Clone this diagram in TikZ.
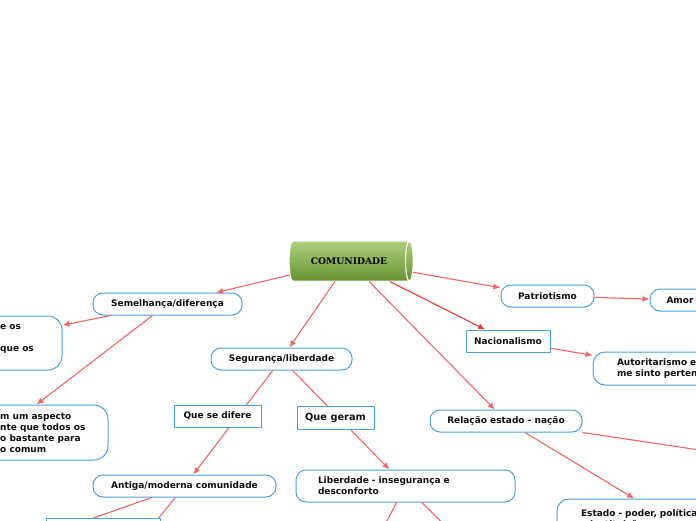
\documentclass[tikz,border=0pt]{standalone}
\usepackage{fontspec}
\setmainfont{DejaVu Sans}
\newfontfamily\titlefont{DejaVu Serif}
\usetikzlibrary{shapes.geometric, arrows.meta}
\definecolor{mapblue}{RGB}{74,162,224}
\definecolor{mapred}{RGB}{246,100,100}
\definecolor{mapdark}{RGB}{222,62,62}
\definecolor{maptext}{RGB}{15,15,15}
\definecolor{greenhi}{RGB}{176,208,126}
\definecolor{greenlo}{RGB}{100,146,48}
\tikzset{
  bubble/.style={rectangle, draw=mapblue, fill=white, rounded corners=10pt,
    line width=1pt, text=maptext, inner sep=0pt,
    font=\fontsize{9}{11}\selectfont\bfseries},
  tagbox/.style={rectangle, draw=mapblue, fill=white, line width=1pt,
    text=maptext, inner sep=0pt, font=\fontsize{9}{11}\selectfont\bfseries},
  note/.style={inner sep=0pt, align=left, text=maptext,
    font=\fontsize{9}{11}\selectfont\bfseries},
  hub/.style={cylinder, shape border rotate=0, aspect=1.1,
    minimum height=124pt, minimum width=40pt, inner sep=0pt,
    top color=greenhi, bottom color=greenlo, draw=white, line width=1pt,
    font=\titlefont\fontsize{9.2}{11}\selectfont\bfseries},
  link/.style={-{Latex[length=7pt,width=6pt]}, color=mapred, line width=1.1pt},
  darklink/.style={-{Latex[length=7pt,width=6pt]}, color=mapdark, line width=1.1pt},
  plainlink/.style={color=mapred, line width=1.1pt}
}
\begin{document}
\begin{tikzpicture}[x=1pt, y=-1pt]
\useasboundingbox (0,0) rectangle (696,520);
\fill[white] (0,0) rectangle (696,520);
\clip (0,0) rectangle (696,520);

\node[hub] (comunidade) at (349,261) {COMUNIDADE};

% left branch
\node[bubble, minimum width=149pt, minimum height=22pt] (semelhanca) at (167.5,304) {Semelhança/diferença};
\node[bubble, minimum width=176pt, minimum height=54pt, rounded corners=14pt] (integrantes) at (-26,343) {};
\node[note, anchor=west] (integrantestxt) at (0,343) {e os\\ ~\\ que os\\ ~};
\node[bubble, minimum width=216pt, minimum height=55pt, rounded corners=14pt] (aspecto) at (0,432.5) {};
\node[note, anchor=west] (aspectotxt) at (0,433) {m um aspecto\\nte que todos os\\o bastante para\\o comum};

% middle branch
\node[bubble, minimum width=141pt, minimum height=22pt] (seguranca) at (281.5,359) {Segurança/liberdade};
\node[bubble, minimum width=183pt, minimum height=22pt] (antiga) at (184.5,486) {Antiga/moderna comunidade};
\node[bubble, minimum width=219pt, minimum height=32pt, text width=175pt, align=left] (liberdade) at (405.5,486) {Liberdade - insegurança e\\desconforto};

% right branch
\node[bubble, minimum width=93pt, minimum height=22pt] (patriotismo) at (547.5,296) {Patriotismo};
\node[bubble, minimum width=60pt, minimum height=22pt] (amor) at (680,300) {Amor};
\node[tagbox, minimum width=84pt, minimum height=22pt] (nacionalismo) at (508,341) {Nacionalismo};
\node[bubble, minimum width=154pt, minimum height=33pt, rounded corners=12pt, text width=106pt, align=left] (autoritarismo) at (670,368.5) {Autoritarismo e\\me sinto perten};
\node[bubble, minimum width=152pt, minimum height=22pt] (relacao) at (506,421) {Relação estado - nação};
\node[bubble, minimum width=222pt, minimum height=40pt, rounded corners=12pt, text width=174pt, align=left] (estado) at (668,519) {Estado - poder, política\\e instituições};

\coordinate (antigaA) at (-100,586);
\coordinate (antigaB) at (104,586);
\coordinate (liberdadeA) at (352,586);
\coordinate (liberdadeB) at (505,586);
\coordinate (relacaoR) at (806,466);

\draw[link] (comunidade) -- (semelhanca);
\draw[link] (comunidade) -- (seguranca);
\draw[link] (comunidade) -- (relacao);
\draw[darklink] (comunidade) -- (nacionalismo);
\draw[link] (comunidade) -- (patriotismo);
\draw[link] (patriotismo) -- (amor);
\draw[link] (nacionalismo) -- (autoritarismo);
\draw[link] (semelhanca) -- (integrantes);
\draw[link] (semelhanca) -- (aspecto);
\draw[link] (seguranca) -- (antiga);
\draw[link] (seguranca) -- (liberdade);
\draw[plainlink] (antiga) -- (antigaA);
\draw[plainlink] (antiga) -- (antigaB);
\draw[plainlink] (liberdade) -- (liberdadeA);
\draw[plainlink] (liberdade) -- (liberdadeB);
\draw[plainlink] (relacao) -- (relacaoR);
\draw[link] (relacao) -- (estado);

% link labels on top of the lines
\node[tagbox, minimum width=87pt, minimum height=22pt] (difere) at (217.5,416) {Que se difere};
\node[tagbox, minimum width=77pt, minimum height=23pt, font=\fontsize{9.8}{11}\selectfont\bfseries] (geram) at (335.5,417.5) {Que geram};
\node[tagbox, minimum width=114pt, minimum height=22pt] (antigatag) at (103,529) {};
\end{tikzpicture}
\end{document}
